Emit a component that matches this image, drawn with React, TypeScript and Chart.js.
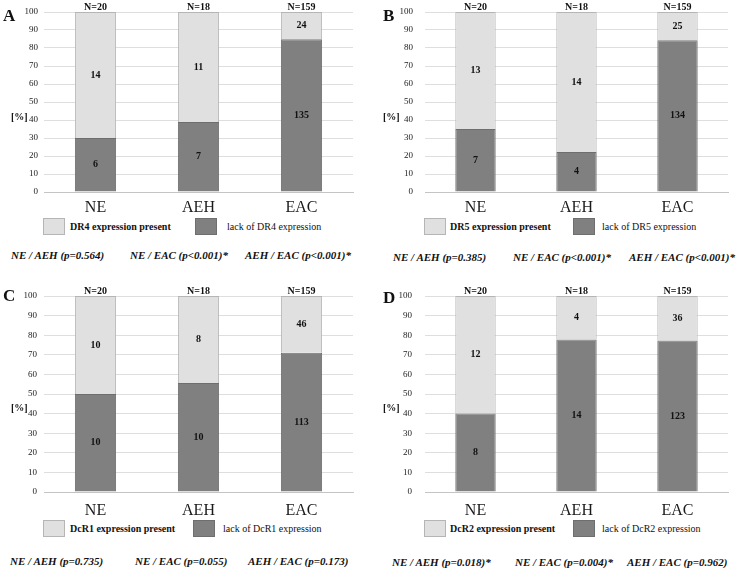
import React, { useEffect, useRef } from 'react';
import { Chart, registerables } from 'chart.js';
Chart.register(...registerables);

// ---------- data ----------
const categories = ['NE', 'AEH', 'EAC'];
const yTicks = [0, 10, 20, 30, 40, 50, 60, 70, 80, 90, 100];

const dr4Lack = [6, 7, 135];
const dr4Present = [14, 11, 24];
const dr5Lack = [7, 4, 134];
const dr5Present = [13, 14, 25];
const dcr1Lack = [10, 10, 113];
const dcr1Present = [10, 8, 46];
const dcr2Lack = [8, 14, 123];
const dcr2Present = [12, 4, 36];

const dr4Pvals = ['NE / AEH (p=0.564)', 'NE / EAC (p<0.001)*', 'AEH / EAC (p<0.001)*'];
const dr5Pvals = ['NE / AEH (p=0.385)', 'NE / EAC (p<0.001)*', 'AEH / EAC (p<0.001)*'];
const dcr1Pvals = ['NE / AEH (p=0.735)', 'NE / EAC (p=0.055)', 'AEH / EAC (p=0.173)'];
const dcr2Pvals = ['NE / AEH (p=0.018)*', 'NE / EAC (p=0.004)*', 'AEH / EAC (p=0.962)'];

// ---------- styles ----------
const SERIF = '"Liberation Serif", "Times New Roman", serif';
const LIGHT = '#e0e0e0';
const LIGHT_BORDER = '#b5b5b5';
const DARK = '#808080';
const DARK_BORDER = '#6e6e6e';

type PanelCfg = {
  letter: string;
  marker: string;
  lack: number[];
  present: number[];
  pvals: string[];
  left: number;
  top: number;
  width: number;
  height: number;
  pl: number;
  pr: number;
  pt: number;
  pb: number;
  yPad: number;
  xPad: number;
  letterPos: [number, number];
  pctPos: [number, number];
  legendY: number;
  legendX: [number, number, number, number];
  pY: number;
  pX: [number, number, number];
};

const panels: PanelCfg[] = [
  {
    letter: 'A', marker: 'DR4', lack: dr4Lack, present: dr4Present, pvals: dr4Pvals,
    left: 0, top: 0, width: 370, height: 215, pl: 44, pr: 353, pt: 12, pb: 192, yPad: 6, xPad: 0,
    letterPos: [3, 15], pctPos: [11, 117], legendY: 226, legendX: [43, 70, 195, 227], pY: 255, pX: [11, 130, 245],
  },
  {
    letter: 'B', marker: 'DR5', lack: dr5Lack, present: dr5Present, pvals: dr5Pvals,
    left: 370, top: 0, width: 368, height: 215, pl: 55, pr: 358, pt: 12, pb: 192, yPad: 12, xPad: 0,
    letterPos: [383, 15], pctPos: [383, 117], legendY: 226, legendX: [424, 450, 573, 602], pY: 257, pX: [393, 513, 629],
  },
  {
    letter: 'C', marker: 'DcR1', lack: dcr1Lack, present: dcr1Present, pvals: dcr1Pvals,
    left: 0, top: 280, width: 370, height: 235, pl: 44, pr: 353, pt: 16, pb: 212, yPad: 7, xPad: 3,
    letterPos: [3, 295], pctPos: [11, 408], legendY: 528, legendX: [43, 70, 193, 223], pY: 561, pX: [10, 135, 248],
  },
  {
    letter: 'D', marker: 'DcR2', lack: dcr2Lack, present: dcr2Present, pvals: dcr2Pvals,
    left: 370, top: 280, width: 368, height: 235, pl: 55, pr: 358, pt: 16, pb: 212, yPad: 13, xPad: 3,
    letterPos: [383, 297], pctPos: [383, 408], legendY: 528, legendX: [424, 450, 573, 602], pY: 562, pX: [392, 515, 627],
  },
];

function T(props: { x: number; y: number; size: number; bold?: boolean; italic?: boolean; children: React.ReactNode; color?: string }) {
  const { x, y, size, bold, italic, children, color } = props;
  return (
    <div
      style={{
        position: 'absolute',
        left: x,
        top: y - size / 2,
        fontSize: size,
        lineHeight: `${size}px`,
        fontFamily: SERIF,
        fontWeight: bold ? 700 : 400,
        fontStyle: italic ? 'italic' : 'normal',
        whiteSpace: 'nowrap',
        color: color || '#111',
      }}
    >
      {children}
    </div>
  );
}

function Box(props: { x: number; y: number; fill: string; border: string }) {
  return (
    <div
      style={{
        position: 'absolute',
        left: props.x,
        top: props.y - 8.5,
        width: 22,
        height: 17,
        boxSizing: 'border-box',
        background: props.fill,
        border: `1px solid ${props.border}`,
      }}
    />
  );
}

function BarPanel({ cfg }: { cfg: PanelCfg }) {
  const ref = useRef<HTMLCanvasElement>(null);
  useEffect(() => {
    const totals = cfg.lack.map((v, i) => v + cfg.present[i]);
    const pct = (arr: number[]) => arr.map((v, i) => (v / totals[i]) * 100);
    const counts = [cfg.lack, cfg.present];
    const labelPlugin = {
      id: 'segLabels',
      afterDatasetsDraw(chart: any) {
        const ctx = chart.ctx;
        ctx.save();
        ctx.textAlign = 'center';
        ctx.textBaseline = 'middle';
        ctx.fillStyle = '#111';
        ctx.font = `bold 10px ${SERIF}`;
        chart.data.datasets.forEach((_ds: any, i: number) => {
          const meta = chart.getDatasetMeta(i);
          meta.data.forEach((bar: any, j: number) => {
            const p = bar.getProps(['x', 'y', 'base'], true);
            ctx.fillText(String(counts[i][j]), p.x, (p.y + p.base) / 2);
          });
        });
        const meta0 = chart.getDatasetMeta(0);
        meta0.data.forEach((bar: any, j: number) => {
          ctx.fillText('N=' + totals[j], bar.x, chart.chartArea.top - 5);
        });
        ctx.restore();
      },
    };
    const chart = new Chart(ref.current as HTMLCanvasElement, {
      type: 'bar',
      data: {
        labels: categories,
        datasets: [
          {
            label: 'lack of ' + cfg.marker + ' expression',
            data: pct(cfg.lack),
            backgroundColor: DARK,
            borderColor: DARK_BORDER,
            borderWidth: 1,
            categoryPercentage: 1,
            barPercentage: 0.4,
          },
          {
            label: cfg.marker + ' expression present',
            data: pct(cfg.present),
            backgroundColor: LIGHT,
            borderColor: LIGHT_BORDER,
            borderWidth: 1,
            categoryPercentage: 1,
            barPercentage: 0.4,
          },
        ],
      },
      options: {
        responsive: false,
        animation: false,
        devicePixelRatio: 1,
        layout: { padding: { left: 0, top: cfg.pt, right: cfg.width - cfg.pr, bottom: 0 } },
        plugins: { legend: { display: false }, tooltip: { enabled: false } },
        scales: {
          x: {
            stacked: true,
            grid: { display: false },
            border: { display: true, color: '#c4c4c4' },
            ticks: { font: { family: SERIF, size: 16, lineHeight: 1 }, color: '#1a1a1a', padding: cfg.xPad },
            afterFit: (s: any) => {
              s.height = cfg.height - cfg.pb;
              s.paddingLeft = 0;
              s.paddingRight = 0;
            },
          },
          y: {
            stacked: true,
            min: 0,
            max: 100,
            afterBuildTicks: (s: any) => {
              s.ticks = yTicks.map((v) => ({ value: v }));
            },
            ticks: { font: { family: SERIF, size: 9 }, color: '#222', padding: cfg.yPad },
            grid: { color: '#dedede', drawTicks: false },
            border: { display: false },
            afterFit: (s: any) => {
              s.width = cfg.pl;
              s.paddingTop = 0;
              s.paddingBottom = 0;
            },
          },
        },
      } as any,
      plugins: [labelPlugin],
    });
    return () => chart.destroy();
  }, []);
  return (
    <canvas
      ref={ref}
      width={cfg.width}
      height={cfg.height}
      style={{ position: 'absolute', left: cfg.left, top: cfg.top, width: cfg.width, height: cfg.height }}
    />
  );
}

export default function App() {
  return (
    <div style={{ position: 'absolute', left: 0, top: 0, width: 738, height: 569, background: '#fff', overflow: 'hidden' }}>
      {panels.map((cfg) => (
        <React.Fragment key={cfg.letter}>
          <BarPanel cfg={cfg} />
          <T x={cfg.letterPos[0]} y={cfg.letterPos[1]} size={17} bold>
            {cfg.letter}
          </T>
          <T x={cfg.pctPos[0]} y={cfg.pctPos[1]} size={10} bold>
            [%]
          </T>
          <Box x={cfg.legendX[0]} y={cfg.legendY} fill={LIGHT} border={LIGHT_BORDER} />
          <T x={cfg.legendX[1]} y={cfg.legendY + 1} size={10} bold>
            {cfg.marker} expression present
          </T>
          <Box x={cfg.legendX[2]} y={cfg.legendY} fill={DARK} border={DARK_BORDER} />
          <T x={cfg.legendX[3]} y={cfg.legendY + 1} size={10}>
            lack of {cfg.marker} expression
          </T>
          {cfg.pvals.map((p, i) => (
            <T key={i} x={cfg.pX[i]} y={cfg.pY} size={11} bold italic>
              {p}
            </T>
          ))}
        </React.Fragment>
      ))}
    </div>
  );
}
